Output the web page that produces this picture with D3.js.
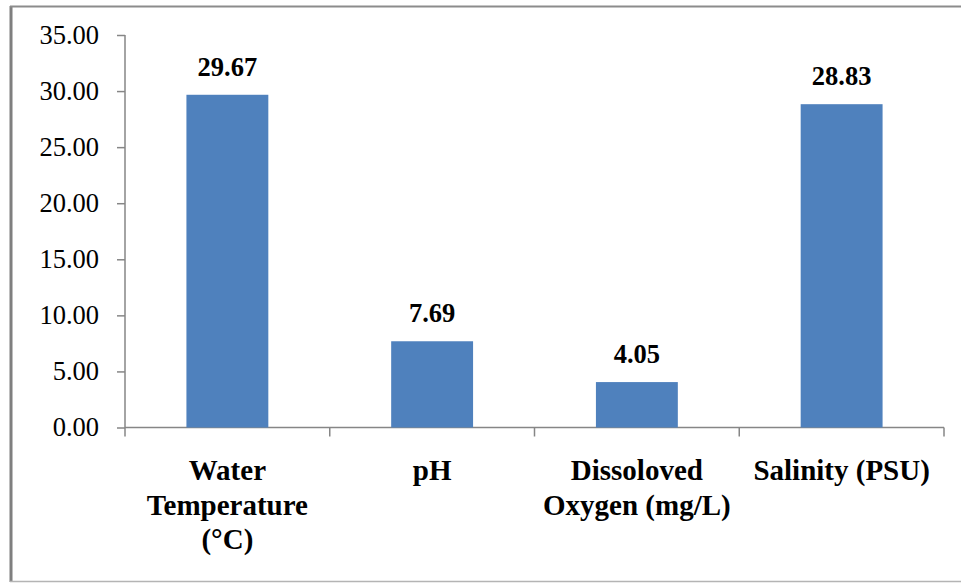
<!DOCTYPE html>
<html>
<head>
<meta charset="utf-8">
<script src="https://cdn.jsdelivr.net/npm/d3@7"></script>
<style>
  html, body { margin: 0; padding: 0; background: #fff; }
  svg { display: block; }
</style>
</head>
<body>
<svg id="chart" width="961" height="583"></svg>
<script>
// Water quality parameters (mean values)
const categories = ["Water Temperature (°C)", "pH", "Dissoloved Oxygen (mg/L)", "Salinity (PSU)"];
const values = [29.67, 7.69, 4.05, 28.83];
const yTicks = [0, 5, 10, 15, 20, 25, 30, 35];

const FONT = "Liberation Serif";
const W = 961, H = 583;
const svg = d3.select("#chart");
svg.append("rect").attr("width", W).attr("height", H).attr("fill", "#fff");

function serif(sel, size, bold) {
  return sel.style("font-family", FONT).style("font-size", size + "px")
    .style("font-weight", bold ? "bold" : "normal").attr("fill", "#000");
}

// chart frame
svg.append("line").attr("x1", 11).attr("x2", 11).attr("y1", 6).attr("y2", 582)
  .attr("stroke", "#7f7f7f").attr("stroke-width", 3);
svg.append("line").attr("x1", 10).attr("x2", W).attr("y1", 6.5).attr("y2", 6.5)
  .attr("stroke", "#8c8c8c").attr("stroke-width", 2);
svg.append("line").attr("x1", 10).attr("x2", W).attr("y1", 581.5).attr("y2", 581.5)
  .attr("stroke", "#b4b4b4").attr("stroke-width", 1.5);

const plot = { left: 125, right: 944, top: 35, bottom: 427.5 };

const x = d3.scaleBand().domain(categories)
  .range([plot.left, plot.right]).paddingInner(0.6).paddingOuter(0.3);
const y = d3.scaleLinear().domain([0, 35]).range([plot.bottom, plot.top]);

const axisColor = "#868686";

// y axis
const yAxis = svg.append("g").attr("transform", `translate(${plot.left},0)`)
  .call(d3.axisLeft(y).tickValues(yTicks).tickFormat(d3.format(".2f")).tickSize(8).tickPadding(18));
yAxis.select(".domain").attr("stroke", axisColor).attr("stroke-width", 1.5)
  .attr("d", `M0,${plot.top}V${plot.bottom + 9}`);
yAxis.selectAll(".tick line").attr("stroke", axisColor).attr("stroke-width", 1.5);
serif(yAxis.selectAll(".tick text"), 26.5, false);

// x axis with category separators
svg.append("line").attr("x1", plot.left).attr("x2", plot.right)
  .attr("y1", plot.bottom).attr("y2", plot.bottom)
  .attr("stroke", axisColor).attr("stroke-width", 1.5);
const step = x.step();
const seps = d3.range(1, categories.length + 1).map(i => plot.left + i * step);
svg.selectAll(".sep").data(seps).enter().append("line")
  .attr("x1", d => d).attr("x2", d => d)
  .attr("y1", plot.bottom).attr("y2", plot.bottom + 9)
  .attr("stroke", axisColor).attr("stroke-width", 1.5);

// bars
svg.selectAll(".bar").data(categories).enter().append("rect")
  .attr("x", d => x(d))
  .attr("width", x.bandwidth())
  .attr("y", (d, i) => y(values[i]))
  .attr("height", (d, i) => plot.bottom - y(values[i]))
  .attr("fill", "#4f81bd");

// value labels
serif(svg.selectAll(".val").data(categories).enter().append("text"), 26.5, true)
  .attr("x", d => x(d) + x.bandwidth() / 2)
  .attr("y", (d, i) => y(values[i]) - 19)
  .attr("text-anchor", "middle")
  .text((d, i) => d3.format(".2f")(values[i]));

// category labels, word-wrapped to fit under each bar
const wrapWidth = 195;
const labelG = svg.append("g");
categories.forEach(c => {
  const cx = x(c) + x.bandwidth() / 2;
  const t = serif(labelG.append("text"), 29, true)
    .attr("x", cx).attr("y", 480)
    .attr("text-anchor", "middle");
  let line = [];
  let tspan = t.append("tspan").attr("x", cx).attr("dy", 0);
  c.split(" ").forEach(w => {
    line.push(w);
    tspan.text(line.join(" "));
    if (tspan.node().getComputedTextLength() > wrapWidth && line.length > 1) {
      line.pop();
      tspan.text(line.join(" "));
      line = [w];
      tspan = t.append("tspan").attr("x", cx).attr("dy", 34.5).text(w);
    }
  });
});
</script>
</body>
</html>
